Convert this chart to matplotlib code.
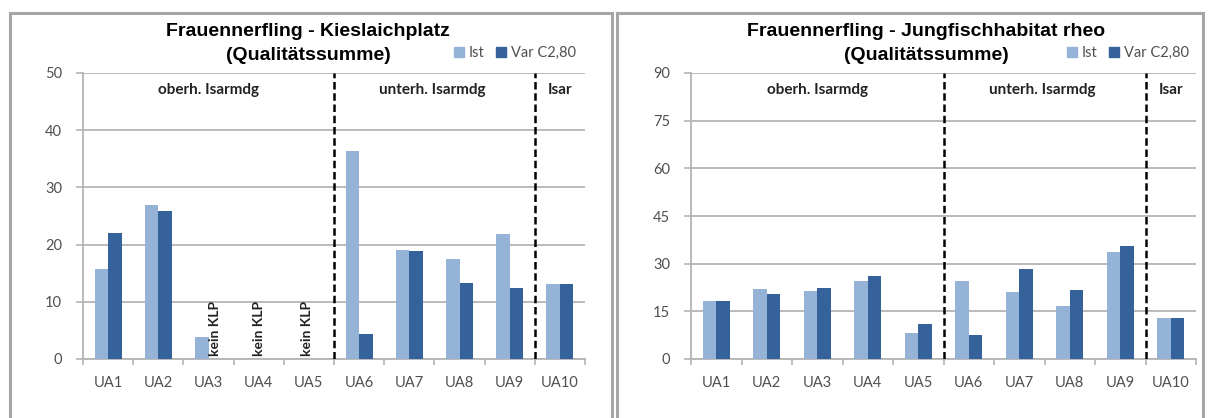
import numpy as np
import matplotlib.pyplot as plt
from matplotlib.patches import Rectangle

plt.rcParams['font.family'] = ['Lato', 'DejaVu Sans']

categories = ['UA1', 'UA2', 'UA3', 'UA4', 'UA5', 'UA6', 'UA7', 'UA8', 'UA9', 'UA10']
series_names = ['Ist', 'Var C2,80']

# Kieslaichplatz (left)
kies_ist = [15.7, 27.0, 3.9, 0, 0, 36.4, 19.1, 17.5, 21.8, 13.1]
kies_var = [22.0, 25.8, 0, 0, 0, 4.4, 18.8, 13.3, 12.5, 13.1]
kies_yticks = [0, 10, 20, 30, 40, 50]
kies_notes = ['UA3', 'UA4', 'UA5']   # "kein KLP"

# Jungfischhabitat rheo (right)
jung_ist = [18.3, 21.9, 21.4, 24.5, 8.1, 24.5, 21.2, 16.8, 33.8, 13.0]
jung_var = [18.3, 20.4, 22.2, 26.1, 10.9, 7.5, 28.2, 21.8, 35.6, 13.0]
jung_yticks = [0, 15, 30, 45, 60, 75, 90]

regions = ['oberh. Isarmdg', 'unterh. Isarmdg', 'Isar']
region_pos = [2.0, 6.45, 9.0]
split_pos = [4.5, 8.5]

C_IST = '#95b3d7'
C_VAR = '#35629a'
GRID = '#b4b4b4'
TXT = '#505050'

W, H = 1213, 418
fig = plt.figure(figsize=(W / 100, H / 100), dpi=100)


def fx(px):
    return px / W


def fy(py):
    return 1 - py / H


def panel(x0, x1, title1, ist, var, yticks, notes, note_dx, title_x, leg_x):
    ax = fig.add_axes([fx(x0), fy(359), fx(x1 - x0), fy(73) - fy(359)])
    x = np.arange(len(categories))
    bw = 0.27
    ax.bar(x - bw / 2, ist, bw, color=C_IST, zorder=3)
    ax.bar(x + bw / 2, var, bw, color=C_VAR, zorder=3)
    ax.set_xlim(-0.5, len(categories) - 0.5)
    ax.set_ylim(yticks[0], yticks[-1])
    ax.set_yticks(yticks)
    ax.yaxis.grid(True, color=GRID, linewidth=1.3, zorder=0)
    ax.set_xticks(x)
    ax.set_xticklabels(categories)
    ax.set_xticks(np.arange(-0.5, len(categories)), minor=True)
    ax.tick_params(axis='x', which='major', length=0, pad=12, labelsize=10.5, labelcolor=TXT)
    ax.tick_params(axis='x', which='minor', length=4, color=GRID, width=1.2)
    ax.tick_params(axis='y', length=5, color=GRID, width=1.2, pad=10, labelsize=10.5, labelcolor=TXT)
    for s in ['top', 'right']:
        ax.spines[s].set_visible(False)
    for s in ['left', 'bottom']:
        ax.spines[s].set_color(GRID)
        ax.spines[s].set_linewidth(1.3)
    for p in split_pos:
        ax.axvline(p, color='black', linestyle=(0, (3, 1.5)), linewidth=1.8, zorder=4)
    for name, p in zip(regions, region_pos):
        ax.text(p, 0.94, name, transform=ax.get_xaxis_transform(), ha='center', va='center',
                fontsize=11, fontweight='bold', color='#222222')
    for c, dx in zip(notes, note_dx):
        i = categories.index(c)
        ax.text(i + dx, yticks[-1] * 0.01, 'kein KLP', rotation=90, ha='center', va='bottom',
                fontsize=10, fontweight='bold', color='#222222')
    fig.text(fx(title_x), fy(32), title1, ha='center', va='center', fontsize=14,
             fontweight='bold', family='Liberation Sans')
    fig.text(fx(title_x), fy(55), '(Qualitätssumme)', ha='center', va='center', fontsize=14,
             fontweight='bold', family='Liberation Sans')
    # legend
    handles = [Rectangle((0, 0), 1, 1, color=C_IST), Rectangle((0, 0), 1, 1, color=C_VAR)]
    fig.legend(handles, series_names, loc='center left', bbox_to_anchor=(fx(leg_x), fy(53)),
               frameon=False, ncol=2, fontsize=10.5, handlelength=0.7, handleheight=0.7,
               handletextpad=0.3, columnspacing=0.8, borderpad=0, borderaxespad=0,
               labelcolor=TXT)
    return ax


panel(83, 585, 'Frauennerfling - Kieslaichplatz', kies_ist, kies_var, kies_yticks,
      kies_notes, [0.13, 0.0, -0.04], 308, 454)
panel(691, 1196, 'Frauennerfling - Jungfischhabitat rheo', jung_ist, jung_var, jung_yticks,
      [], [], 926, 1067)

# panel frames
for (a, b) in [(10, 612), (617, 1203)]:
    fig.patches.append(Rectangle((fx(a), -0.05), fx(b - a), fy(13) + 0.05,
                                 transform=fig.transFigure, fill=False,
                                 edgecolor='#a6a6a6', linewidth=2.2))

fig.savefig('out.png', dpi=100)
